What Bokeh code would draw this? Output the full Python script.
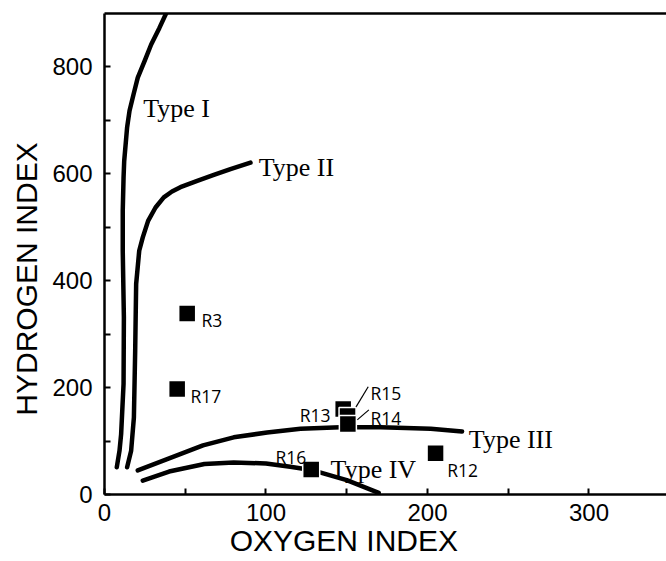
from bokeh.plotting import figure
from bokeh.models import (ColumnDataSource, Label, LinearAxis, FixedTicker,
                          Range1d)
from bokeh.embed import file_html
from bokeh.resources import INLINE

# ---- data ----
type1_x = [7.6, 9.3, 10.3, 11.8, 12.0, 11.3, 11.3, 11.8, 12.2, 14.0, 15.5, 18.0, 20.6, 24.8, 28.9, 34.0, 39.2]
type1_y = [51, 82, 113, 207, 331, 456, 531, 593, 624, 687, 718, 749, 780, 811, 842, 873, 907]

type2_x = [14.0, 16.5, 18.2, 19.0, 19.6, 21.5, 23.7, 27.0, 31.6, 36.7, 41.8, 47.0, 57.4, 67.7, 78.0, 90.4]
type2_y = [51, 82, 144, 269, 394, 456, 481, 512, 537, 556, 567, 575, 587, 598, 609, 621]

type3_x = [20.6, 38.8, 61.0, 80.0, 100.7, 121.4, 146.0, 171.0, 202.0, 221.4]
type3_y = [45, 66, 92, 107, 116, 123, 126, 126, 123, 118]

type4_x = [23.7, 40.0, 61.9, 80.0, 100.0, 115.0, 128.0, 150.0, 169.8]
type4_y = [26, 43, 57, 60, 58, 52, 46, 27, 3]

samples = ["R3", "R17", "R16", "R12", "R13", "R15", "R14"]
oi = [51.2, 45.0, 128.0, 205.0, 147.8, 150.5, 150.7]
hi = [338.7, 197.5, 47.0, 77.0, 159.8, 146.7, 132.0]

curve_names = ["Type I", "Type II", "Type III", "Type IV"]

x_ticks = [0, 100, 200, 300]
x_minor = [50, 150, 250]
y_ticks = [0, 200, 400, 600, 800]
y_minor = [100, 300, 500, 700]

NB = "\u00a0"
x_title = "OXYGEN INDEX"
y_title = "HYDROGEN INDEX"

p = figure(width=666, height=561, output_backend="svg", toolbar_location=None,
           x_range=Range1d(0, 348), y_range=Range1d(0, 900),
           min_border_left=104, min_border_right=0, min_border_top=13,
           min_border_bottom=67, background_fill_color="white",
           border_fill_color="white", outline_line_color=None)
p.xgrid.visible = False
p.ygrid.visible = False

for ax in (p.xaxis[0], p.yaxis[0]):
    ax.axis_line_width = 2.5
    ax.axis_line_color = "black"
    ax.major_tick_in = 6
    ax.major_tick_out = 0
    ax.minor_tick_in = 6
    ax.minor_tick_out = 0
    ax.major_tick_line_width = 2
    ax.minor_tick_line_width = 2
    ax.major_label_text_font = "Liberation Sans"
    ax.major_label_text_font_size = "24px"
    ax.major_label_text_color = "black"
    ax.axis_label_text_font = "Liberation Sans"
    ax.axis_label_text_font_style = "normal"
    ax.axis_label_text_font_size = "30px"
    ax.axis_label_text_color = "black"

p.xaxis[0].major_label_standoff = 9
p.yaxis[0].major_label_standoff = 12
p.xaxis[0].axis_label_standoff = 0
p.yaxis[0].axis_label_standoff = 6
p.xaxis[0].axis_label = x_title + NB * 10
p.yaxis[0].axis_label = y_title + NB * 6

p.xaxis[0].ticker = FixedTicker(ticks=x_ticks, minor_ticks=x_minor)
p.yaxis[0].ticker = FixedTicker(ticks=y_ticks, minor_ticks=y_minor)

top = LinearAxis(axis_line_width=2.5, major_tick_line_color=None,
                 minor_tick_line_color=None, major_label_text_font_size="0px",
                 major_label_standoff=0, ticker=FixedTicker(ticks=[]))
p.add_layout(top, "above")

lw = 4.5
for xs, ys in [(type1_x, type1_y), (type2_x, type2_y), (type3_x, type3_y), (type4_x, type4_y)]:
    p.line(xs, ys, line_width=lw, line_color="black", line_cap="round", line_join="round")

# leader lines for R15 and R14
p.line([155.4, 163.3], [162, 201.5], line_width=1.2, line_color="black")
p.line([156.5, 163.7], [139.6, 158.3], line_width=1.2, line_color="black")

src = ColumnDataSource(dict(x=oi, y=hi, name=samples))
p.scatter("x", "y", source=src, marker="square", size=17, fill_color="black",
          line_color="white", line_width=1.5)

# sample labels
lab_pos = {
    "R3": (60.0, 326, "left"),
    "R17": (53.2, 184, "left"),
    "R16": (105.9, 71, "left"),
    "R12": (212.2, 45, "left"),
    "R13": (140.0, 148, "right"),
    "R15": (164.7, 189, "left"),
    "R14": (164.7, 143, "left"),
}
for n in samples:
    lx, ly, al = lab_pos[n]
    p.add_layout(Label(x=lx, y=ly, text=n, text_font="Open Sans",
                       text_font_size="17.5px", text_align=al,
                       text_baseline="alphabetic", text_color="black"))

type_pos = [(24.0, 723), (95.5, 612), (225.6, 102), (140.0, 46)]
for name, (tx, ty) in zip(curve_names, type_pos):
    p.add_layout(Label(x=tx, y=ty, text=name, text_font="Liberation Serif",
                       text_font_size="26px", text_align="left",
                       text_baseline="alphabetic", text_color="black"))

open("out.html", "w").write(file_html(p, INLINE))
